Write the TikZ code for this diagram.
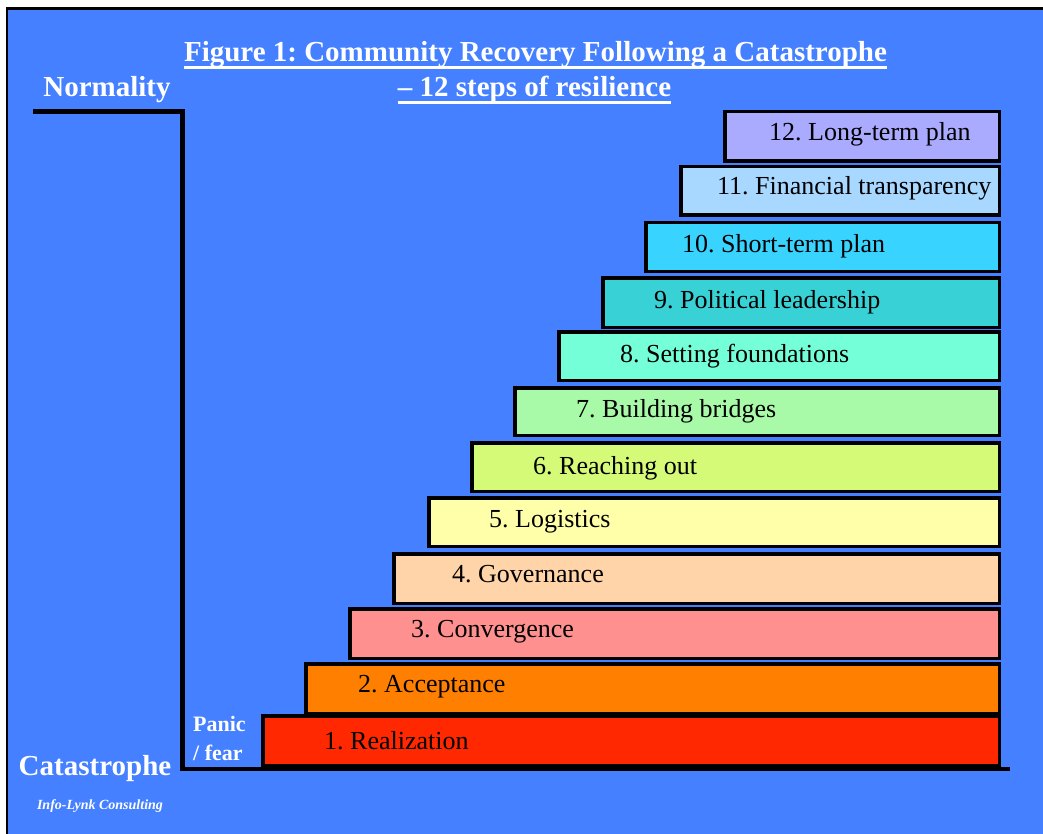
\documentclass[tikz,border=0pt]{standalone}
\usepackage{fontspec}
\setmainfont{Liberation Serif}
\frenchspacing

\newcommand{\TitleFont}{\fontsize{29}{35}\selectfont\bfseries}
\newcommand{\SideFont}{\fontsize{29}{35}\selectfont\bfseries}
\newcommand{\PanicFont}{\fontsize{22}{28}\selectfont\bfseries}
\newcommand{\StepFont}{\fontsize{26}{30}\selectfont}
\newcommand{\CreditFont}{\fontsize{14}{17}\selectfont\bfseries\itshape}

\definecolor{skyblue}{RGB}{68,128,255}
\definecolor{cRealization}{RGB}{255,40,0}
\definecolor{cAcceptance}{RGB}{255,128,0}
\definecolor{cConvergence}{RGB}{255,144,144}
\definecolor{cGovernance}{RGB}{255,212,168}
\definecolor{cLogistics}{RGB}{255,255,170}
\definecolor{cReaching}{RGB}{212,250,120}
\definecolor{cBridges}{RGB}{168,250,168}
\definecolor{cFoundations}{RGB}{116,255,216}
\definecolor{cLeadership}{RGB}{56,210,214}
\definecolor{cShortPlan}{RGB}{56,212,255}
\definecolor{cTransparency}{RGB}{168,216,255}
\definecolor{cLongPlan}{RGB}{170,170,255}

\begin{document}
\begin{tikzpicture}[x=1pt,y=-1pt,
  stepbox/.style={draw=black,line width=3.5pt,anchor=north west,inner sep=0pt},
  steptext/.style={anchor=base west,inner sep=0pt,text=black,font=\StepFont},
  whitetext/.style={inner sep=0pt,text=white},
  underline/.style={white,line width=3pt}]
\useasboundingbox (0,0) rectangle (1043,834);
\fill[white] (0,0) rectangle (1043,834);
\fill[skyblue] (7,8.7) rectangle (1043,834);
\draw[line width=2.5pt] (7,834) -- (7,8.7) -- (1043,8.7);

% heading
\node[whitetext,anchor=base,font=\TitleFont] (title-1) at (535.5,62) {Figure 1: Community Recovery Following a Catastrophe};
\node[whitetext,anchor=base,font=\TitleFont] (title-2) at (534.5,97) {-- 12 steps of resilience};
\draw[underline] ([yshift=-5.5pt]title-1.base west) -- ([yshift=-5.5pt]title-1.base east);
\draw[underline] ([yshift=-5.5pt]title-2.base west) -- ([yshift=-5.5pt]title-2.base east);

% the steps, from the bottom up
\node[stepbox,fill=cRealization,minimum width=736.5pt,minimum height=49.5pt] (step-1) at (261,714) {};
\node[stepbox,fill=cAcceptance,minimum width=693.5pt,minimum height=49.5pt] (step-2) at (304,662) {};
\node[stepbox,fill=cConvergence,minimum width=649.5pt,minimum height=49.5pt] (step-3) at (348,607) {};
\node[stepbox,fill=cGovernance,minimum width=605.5pt,minimum height=49.5pt] (step-4) at (392,552) {};
\node[stepbox,fill=cLogistics,minimum width=570.5pt,minimum height=48.5pt] (step-5) at (427,496) {};
\node[stepbox,fill=cReaching,minimum width=527.5pt,minimum height=48.5pt] (step-6) at (470,441) {};
\node[stepbox,fill=cBridges,minimum width=484.5pt,minimum height=47.5pt] (step-7) at (513,386) {};
\node[stepbox,fill=cFoundations,minimum width=440.5pt,minimum height=48.5pt] (step-8) at (557,330) {};
\node[stepbox,fill=cLeadership,minimum width=396.5pt,minimum height=49.5pt] (step-9) at (601,276) {};
\node[stepbox,fill=cShortPlan,minimum width=353.5pt,minimum height=48.5pt] (step-10) at (644,221) {};
\node[stepbox,fill=cTransparency,minimum width=318.5pt,minimum height=48.5pt] (step-11) at (679,165) {};
\node[stepbox,fill=cLongPlan,minimum width=274.5pt,minimum height=49.5pt] (step-12) at (723,110) {};

\node[steptext] (label-1) at (324,749) {1. Realization};
\node[steptext] (label-2) at (358,692) {2. Acceptance};
\node[steptext] (label-3) at (411,637) {3. Convergence};
\node[steptext] (label-4) at (452,582) {4. Governance};
\node[steptext] (label-5) at (489,527) {5. Logistics};
\node[steptext] (label-6) at (533,474) {6. Reaching out};
\node[steptext] (label-7) at (576,417) {7. Building bridges};
\node[steptext] (label-8) at (620,362) {8. Setting foundations};
\node[steptext] (label-9) at (654,308) {9. Political leadership};
\node[steptext] (label-10) at (682,252) {10. Short-term plan};
\node[steptext] (label-11) at (717,195) {11. Financial transparency};
\node[steptext] (label-12) at (769,141) {12. Long-term plan};

% the drop from normality and the floor
\coordinate (normal-end) at (33,111.5);
\coordinate (drop-top) at (182.5,111.5);
\coordinate (drop-bottom) at (182.5,769);
\coordinate (floor-end) at (1010,769);
\draw[line width=4.5pt] (normal-end) -- (drop-top) -- (drop-bottom) -- (floor-end);

\node[whitetext,anchor=base,font=\SideFont] (normality) at (107,97) {Normality};
\node[whitetext,anchor=base,font=\SideFont] (catastrophe) at (95,775) {Catastrophe};
\node[whitetext,anchor=base west,font=\PanicFont] (panic) at (193,731) {Panic};
\node[whitetext,anchor=base west,font=\PanicFont] (fear) at (193,760) {/ fear};
\node[whitetext,anchor=base,font=\CreditFont] (credit) at (100,809) {Info-Lynk Consulting};
\end{tikzpicture}
\end{document}
